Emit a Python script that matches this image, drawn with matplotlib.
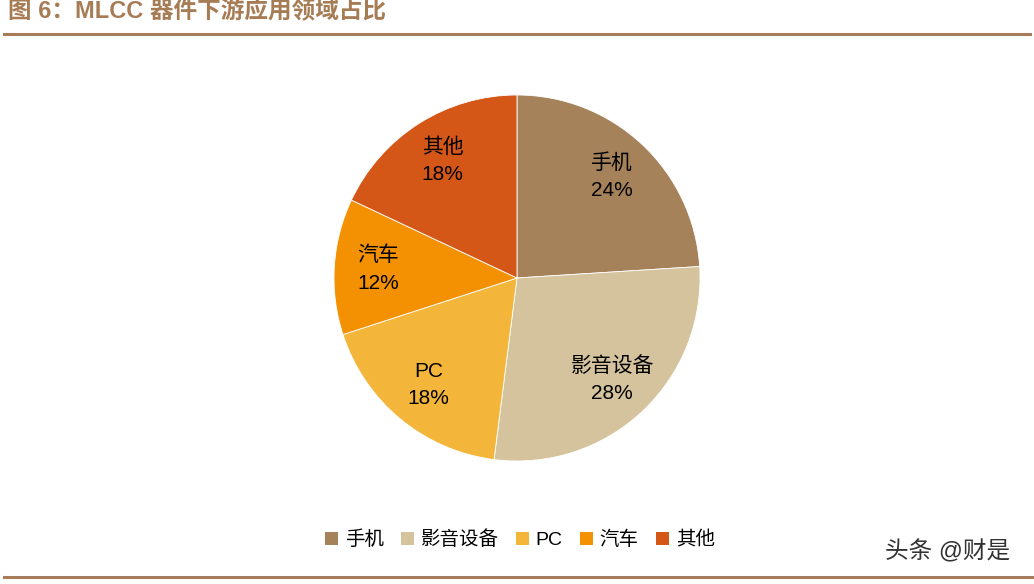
import matplotlib.pyplot as plt
from matplotlib.lines import Line2D
from matplotlib.patches import Patch

categorias = ["手机", "影音设备", "PC", "汽车", "其他"]
valores = [24, 28, 18, 12, 18]
cores = ["#A6825B", "#D4C39C", "#F4B63A", "#F39102", "#D55717"]

titulo = "图 6：MLCC 器件下游应用领域占比"
marca = "头条 @财是"

FONTES = ["Liberation Sans", "Noto Sans CJK SC", "DejaVu Sans"]
plt.rcParams["font.family"] = FONTES

fig = plt.figure(figsize=(10.34, 5.84), dpi=100)
fig.patch.set_facecolor("white")

# eixo do pizza: centro (517, 278), raio 183 px
W, H = 1034, 584
cx, cy, r = 517, 278, 183
ax = fig.add_axes([(cx - r) / W, (H - cy - r) / H, 2 * r / W, 2 * r / H])

rotulos = [f"{c}\n{v}%" for c, v in zip(categorias, valores)]
fatias, textos = ax.pie(
    valores,
    colors=cores,
    startangle=90,
    counterclock=False,
    labels=rotulos,
    labeldistance=0.76,
    wedgeprops={"linewidth": 0.6, "edgecolor": "white"},
    textprops={"fontsize": 15, "ha": "center", "va": "center",
               "linespacing": 1.55, "color": "black"},
)
ax.set_xlim(-1, 1)
ax.set_ylim(-1, 1)
ax.set_aspect("equal")
ax.axis("off")

# legenda
alcas = [Patch(facecolor=c, edgecolor="none") for c in cores]
fig.legend(
    alcas, categorias,
    loc="center", bbox_to_anchor=(0.503, 1 - 540 / H),
    ncol=5, frameon=False, fontsize=14,
    handlelength=0.65, handleheight=0.65, handletextpad=0.35,
    columnspacing=0.9,
)

# titulo e linhas
fig.text(8 / W, 1 - 12 / H, titulo, fontsize=17, fontweight="bold",
         color="#A67C55", ha="left", va="center")
fig.add_artist(Line2D([4 / W, 1030 / W], [1 - 34 / H, 1 - 34 / H],
                      color="#A67C5A", linewidth=2.2, transform=fig.transFigure))
fig.add_artist(Line2D([4 / W, 1.0], [1 - 577 / H, 1 - 577 / H],
                      color="#A67C5A", linewidth=2.2, transform=fig.transFigure))

fig.text(948 / W, 1 - 552 / H, marca, fontsize=17, color="#333333",
         ha="center", va="center")

plt.savefig("out.png", dpi=100)
plt.close()
